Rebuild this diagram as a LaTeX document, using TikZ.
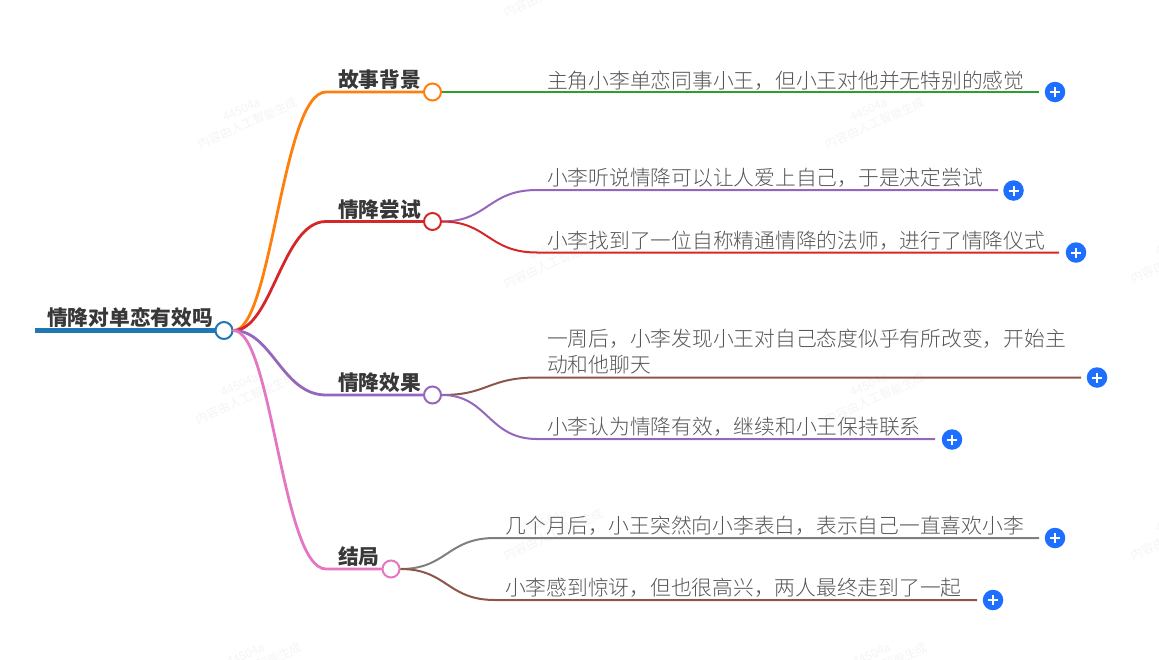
\documentclass[tikz,border=0pt]{standalone}
\usepackage{fontspec}
\setmainfont{Noto Sans CJK SC}
\newfontfamily\leaffont{Noto Sans CJK SC Light}
\definecolor{cblue}{HTML}{1F77B4}
\definecolor{corange}{HTML}{FF7F0E}
\definecolor{cred}{HTML}{D62728}
\definecolor{cpurple}{HTML}{9467BD}
\definecolor{cpink}{HTML}{E377C2}
\definecolor{cgreen}{HTML}{2CA02C}
\definecolor{cbrown}{HTML}{8C564B}
\definecolor{cgray}{HTML}{7F7F7F}
\definecolor{cplus}{HTML}{1E6FFF}
\definecolor{leaftxt}{HTML}{555555}
\definecolor{titletxt}{HTML}{383838}
\definecolor{wm}{HTML}{F4F4F4}
\tikzset{
  hub/.style={circle,draw=#1,fill=white,line width=2pt,minimum size=17pt,inner sep=0pt},
  plusbtn/.style={circle,fill=cplus,minimum size=20.5pt,inner sep=0pt,
    path picture={\draw[white,line width=2pt]
      ([xshift=-5pt]path picture bounding box.center)--([xshift=5pt]path picture bounding box.center)
      ([yshift=-5pt]path picture bounding box.center)--([yshift=5pt]path picture bounding box.center);}},
  leaf/.style={anchor=base west,inner sep=0pt,text=leaftxt,font=\leaffont\fontsize{20.75}{26}\selectfont},
  title/.style={anchor=base west,inner sep=0pt,text=titletxt,font=\fontsize{20.75}{25}\selectfont\bfseries},
  mark wm/.style={rotate=24,align=center,text=wm,inner sep=0pt,font=\fontsize{12}{15}\selectfont},
  mainline/.style={line width=2.8pt,line cap=round},
  subline/.style={line width=2pt,line cap=butt},
}
\newcommand{\wmtext}{44504a\\内容由人工智能生成}
\begin{document}
\begin{tikzpicture}[x=1pt,y=-1pt]
\useasboundingbox (0,0) rectangle (1159,659);
% watermarks
\node[mark wm] (w1) at (245,117) {\wmtext};
\node[mark wm] (w2) at (872,117) {\wmtext};
\node[mark wm] (w3) at (243,392) {\wmtext};
\node[mark wm] (w4) at (872,392) {\wmtext};
\node[mark wm] (w5) at (551,-15) {\wmtext};
\node[mark wm] (w6) at (551,256) {\wmtext};
\node[mark wm] (w7) at (551,528) {\wmtext};
\node[mark wm] (w8) at (1178,251) {\wmtext};
\node[mark wm] (w9) at (1178,528) {\wmtext};
\node[mark wm] (w10) at (249,662) {\wmtext};
\node[mark wm] (w11) at (875,662) {\wmtext};
% coordinates
\coordinate (rootstart) at (35,330.5);
\coordinate (k1) at (326,92);
\coordinate (k2) at (326,221.5);
\coordinate (k3) at (326,395);
\coordinate (k4) at (326,569);
\coordinate (e1) at (1039,92);
\coordinate (k21) at (537,190);
\coordinate (e21) at (998,190);
\coordinate (k22) at (537,252.5);
\coordinate (e22) at (1059,252.5);
\coordinate (k31) at (537,377.5);
\coordinate (e31) at (1081,377.5);
\coordinate (k32) at (537,439);
\coordinate (e32) at (935,439);
\coordinate (k41) at (495,538);
\coordinate (e41) at (1039,538);
\coordinate (k42) at (495,600);
\coordinate (e42) at (977,600);
% hubs
\node[hub=cblue] (root) at (224,330.5) {};
\node[hub=corange] (n1) at (432.5,92) {};
\node[hub=cred] (n2) at (432.5,221.5) {};
\node[hub=cpurple] (n3) at (432.5,395) {};
\node[hub=cpink] (n4) at (391,569) {};
% plus buttons
\node[plusbtn] (p1) at (1055,92) {};
\node[plusbtn] (p21) at (1013.5,190.5) {};
\node[plusbtn] (p22) at (1076,252.5) {};
\node[plusbtn] (p31) at (1097,377.5) {};
\node[plusbtn] (p32) at (952,439.5) {};
\node[plusbtn] (p41) at (1055,538) {};
\node[plusbtn] (p42) at (993,600) {};
% connectors
\draw[cblue,line width=5pt] (rootstart) -- (root.west);
\draw[mainline,corange] (root.east) .. controls (272,330.5) and (282,92) .. (k1) -- (n1.west);
\draw[mainline,cred] (root.east) .. controls (272,330.5) and (282,221.5) .. (k2) -- (n2.west);
\draw[mainline,cpurple] (root.east) .. controls (272,330.5) and (282,395) .. (k3) -- (n3.west);
\draw[mainline,cpink] (root.east) .. controls (272,330.5) and (282,569) .. (k4) -- (n4.west);
\draw[subline,cgreen] (n1.east) -- (e1);
\draw[subline,cpurple] (n2.east) .. controls (488,221.5) and (488,190) .. (k21) -- (e21);
\draw[subline,cred] (n2.east) .. controls (488,221.5) and (488,252.5) .. (k22) -- (e22);
\draw[subline,cbrown] (n3.east) .. controls (488,395) and (488,377.5) .. (k31) -- (e31);
\draw[subline,cpurple] (n3.east) .. controls (488,395) and (488,439) .. (k32) -- (e32);
\draw[subline,cgray] (n4.east) .. controls (447,569) and (447,538) .. (k41) -- (e41);
\draw[subline,cbrown] (n4.east) .. controls (447,569) and (447,600) .. (k42) -- (e42);
% titles
\node[title] (troot) at (47,325) {情降对单恋有效吗};
\node[title] (t1) at (338,87) {故事背景};
\node[title] (t2) at (338,217) {情降尝试};
\node[title] (t3) at (338,390.5) {情降效果};
\node[title] (t4) at (338,564.5) {结局};
% leaves
\node[leaf] (l1) at (547,88) {主角小李单恋同事小王，但小王对他并无特别的感觉};
\node[leaf] (l21) at (547,185.5) {小李听说情降可以让人爱上自己，于是决定尝试};
\node[leaf] (l22) at (547,248) {小李找到了一位自称精通情降的法师，进行了情降仪式};
\node[leaf] (l31) at (547,346) {一周后，小李发现小王对自己态度似乎有所改变，开始主};
\node[leaf] (l31b) at (547,372) {动和他聊天};
\node[leaf] (l32) at (547,434) {小李认为情降有效，继续和小王保持联系};
\node[leaf] (l41) at (505,533.5) {几个月后，小王突然向小李表白，表示自己一直喜欢小李};
\node[leaf] (l42) at (505,595.5) {小李感到惊讶，但也很高兴，两人最终走到了一起};
\end{tikzpicture}
\end{document}
